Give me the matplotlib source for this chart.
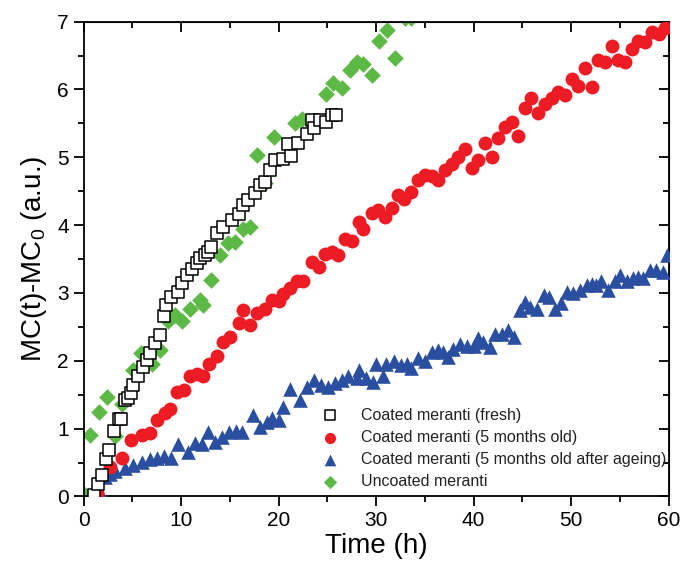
import numpy as np
import matplotlib
matplotlib.use("Agg")
import matplotlib.pyplot as plt
from matplotlib.ticker import MultipleLocator

plt.rcParams["font.family"] = ["Liberation Sans", "DejaVu Sans"]
plt.rcParams["mathtext.default"] = "regular"

# Coated meranti (fresh)
fresh_t = [1.1, 1.45, 1.9, 2.3, 2.6, 3.1, 3.6, 3.8, 4.3, 4.6, 4.9, 5.1, 5.6, 6.1, 6.5,
           6.8, 7.3, 7.8, 8.2, 8.5, 9.0, 9.7, 10.1, 10.6, 11.1, 11.6, 11.9, 12.5, 12.8,
           13.1, 13.7, 14.3, 15.2, 15.9, 16.4, 16.9, 17.6, 18.1, 18.6, 19.1, 19.6, 20.5,
           21.0, 21.3, 22.0, 22.9, 23.4, 23.6, 24.3, 24.9, 25.5, 25.9]
fresh_mc = [0.02, 0.18, 0.32, 0.55, 0.68, 0.97, 1.14, 1.14, 1.42, 1.45, 1.52, 1.64, 1.77,
            1.91, 2.01, 2.11, 2.26, 2.38, 2.66, 2.82, 2.94, 3.02, 3.14, 3.26, 3.36, 3.44,
            3.51, 3.56, 3.61, 3.68, 3.88, 3.98, 4.07, 4.17, 4.30, 4.37, 4.47, 4.59, 4.64,
            4.81, 4.96, 4.98, 5.20, 5.02, 5.21, 5.35, 5.55, 5.43, 5.55, 5.52, 5.62, 5.63]

# Coated meranti (5 months old)
old_t = [1.35, 2.7, 3.9, 4.9, 6.0, 6.8, 7.5, 8.4, 8.9, 9.6, 10.3, 10.9, 11.6, 12.3, 12.9,
         13.7, 14.3, 15.0, 15.9, 16.4, 17.1, 17.8, 18.6, 19.3, 20.0, 20.5, 21.2, 21.9,
         22.5, 23.4, 24.1, 24.8, 25.5, 26.1, 26.8, 27.5, 28.2, 28.7, 29.6, 30.2, 30.9,
         31.6, 32.3, 32.9, 33.6, 34.3, 35.0, 35.7, 36.4, 37.1, 37.8, 38.4, 39.1, 39.8,
         40.5, 41.2, 41.9, 42.5, 43.2, 43.9, 44.6, 45.3, 45.9, 46.6, 47.3, 48.0, 48.7,
         49.4, 50.1, 50.7, 51.4, 52.1, 52.8, 53.5, 54.2, 54.8, 55.5, 56.2, 56.9, 57.6,
         58.3, 59.0, 59.6]
old_mc = [0.05, 0.44, 0.56, 0.83, 0.90, 0.94, 1.13, 1.23, 1.29, 1.54, 1.57, 1.77, 1.80,
          1.78, 1.96, 2.07, 2.28, 2.35, 2.56, 2.75, 2.53, 2.70, 2.76, 2.90, 2.88, 2.99,
          3.07, 3.17, 3.17, 3.46, 3.39, 3.58, 3.61, 3.56, 3.80, 3.77, 4.05, 3.95, 4.18,
          4.22, 4.12, 4.26, 4.44, 4.38, 4.49, 4.66, 4.74, 4.72, 4.67, 4.82, 4.90, 5.01,
          5.12, 4.84, 4.96, 5.21, 5.00, 5.29, 5.44, 5.52, 5.31, 5.72, 5.88, 5.65, 5.78,
          5.87, 5.97, 5.92, 6.15, 6.05, 6.31, 6.03, 6.43, 6.41, 6.64, 6.44, 6.41, 6.59,
          6.72, 6.70, 6.85, 6.82, 6.90]

# Coated meranti (5 months old after ageing)
aged_t = [1.6, 2.2, 2.7, 3.2, 4.3, 5.1, 6.0, 6.8, 7.5, 8.2, 9.0, 9.7, 10.7, 11.4, 12.1,
          12.8, 13.5, 14.2, 14.9, 15.6, 16.2, 17.4, 18.1, 18.8, 19.3, 20.0, 20.5, 21.2,
          22.2, 22.9, 23.6, 24.4, 25.1, 25.8, 26.5, 27.1, 28.0, 28.3, 29.0, 29.7, 30.0,
          30.7, 31.0, 31.8, 32.6, 33.2, 33.6, 34.3, 35.0, 35.7, 36.4, 36.9, 37.4, 37.9,
          38.6, 39.3, 40.0, 40.5, 41.0, 41.7, 42.2, 42.9, 43.5, 44.1, 44.8, 45.3, 45.8,
          46.5, 47.2, 47.7, 48.4, 49.0, 49.6, 50.2, 50.9, 51.6, 52.1, 52.6, 53.1, 53.8,
          54.5, 55.0, 55.7, 56.4, 56.9, 57.4, 58.1, 58.7, 59.4, 59.8]
aged_mc = [0.10, 0.29, 0.33, 0.37, 0.42, 0.46, 0.51, 0.55, 0.56, 0.60, 0.56, 0.78, 0.66,
           0.79, 0.78, 0.95, 0.81, 0.88, 0.95, 0.97, 0.95, 1.20, 1.03, 1.10, 1.15, 1.13,
           1.32, 1.59, 1.42, 1.62, 1.72, 1.64, 1.62, 1.67, 1.72, 1.77, 1.74, 1.86, 1.74,
           1.69, 1.96, 1.77, 1.96, 1.99, 1.94, 1.96, 1.89, 2.04, 2.00, 2.13, 2.16, 2.13,
           2.06, 2.18, 2.25, 2.22, 2.22, 2.33, 2.28, 2.21, 2.40, 2.40, 2.45, 2.35, 2.75,
           2.87, 2.80, 2.77, 2.97, 2.94, 2.77, 2.85, 3.02, 3.00, 3.04, 3.12, 3.13, 3.12,
           3.17, 3.04, 3.17, 3.26, 3.17, 3.22, 3.24, 3.22, 3.34, 3.34, 3.31, 3.56]

# Uncoated meranti
unc_t = [0.15, 0.67, 1.6, 2.4, 3.2, 3.9, 5.1, 5.9, 7.0, 7.8, 8.7, 9.4, 10.1, 10.9, 11.9,
         12.3, 13.1, 14.0, 14.8, 15.5, 16.4, 17.1, 17.8, 18.6, 19.5, 21.7, 22.4, 24.9,
         25.6, 26.5, 27.3, 28.0, 28.7, 29.6, 30.3, 31.1, 31.9, 33.0, 33.6]
unc_mc = [0.02, 0.90, 1.24, 1.47, 0.89, 1.37, 1.86, 2.11, 1.96, 2.16, 2.58, 2.67, 2.58,
          2.77, 2.90, 2.82, 3.19, 3.56, 3.73, 3.75, 3.95, 3.98, 5.03, 4.62, 5.30, 5.50,
          5.57, 5.94, 6.09, 6.02, 6.29, 6.41, 6.38, 6.22, 6.72, 6.88, 6.47, 7.05, 7.05]

labels = ["Coated meranti (fresh)", "Coated meranti (5 months old)",
          "Coated meranti (5 months old after ageing)", "Uncoated meranti"]

red = "#ED1C24"
blue = "#2A4EA0"
green = "#5DB946"

fig = plt.figure(figsize=(6.85, 5.7), dpi=100)
ax = fig.add_axes([0.122, 0.129, 0.854, 0.833])

h_unc = ax.scatter(unc_t, unc_mc, marker="D", s=72, color=green, linewidths=0, zorder=2)
h_aged = ax.scatter(aged_t, aged_mc, marker="^", s=110, color=blue, linewidths=0, zorder=3)
h_old = ax.scatter(old_t, old_mc, marker="o", s=100, color=red, linewidths=0, zorder=4)
h_fresh = ax.scatter(fresh_t, fresh_mc, marker="s", s=72, facecolors="white",
                     edgecolors="black", linewidths=1.1, zorder=5)

ax.set_xlim(0, 60)
ax.set_ylim(0, 7)
ax.xaxis.set_major_locator(MultipleLocator(10))
ax.xaxis.set_minor_locator(MultipleLocator(5))
ax.yaxis.set_major_locator(MultipleLocator(1))
ax.yaxis.set_minor_locator(MultipleLocator(0.5))

ax.tick_params(which="both", direction="out", width=1.3, labelsize=15)
ax.tick_params(which="major", length=7)
ax.tick_params(which="minor", length=4)
for s in ax.spines.values():
    s.set_linewidth(1.3)

# inward ticks on the top and right sides
ax_top = ax.secondary_xaxis("top")
ax_top.xaxis.set_major_locator(MultipleLocator(10))
ax_top.xaxis.set_minor_locator(MultipleLocator(5))
ax_top.tick_params(which="both", direction="in", width=1.3, labeltop=False)
ax_top.tick_params(which="major", length=7)
ax_top.tick_params(which="minor", length=4)
ax_right = ax.secondary_yaxis("right")
ax_right.yaxis.set_major_locator(MultipleLocator(1))
ax_right.yaxis.set_minor_locator(MultipleLocator(0.5))
ax_right.tick_params(which="both", direction="in", width=1.3, labelright=False)
ax_right.tick_params(which="major", length=7)
ax_right.tick_params(which="minor", length=4)

ax.set_xlabel("Time (h)", fontsize=20, labelpad=2)
ax.set_ylabel("MC(t)-MC$_0$ (a.u.)", fontsize=20, labelpad=6)

leg = ax.legend([h_fresh, h_old, h_aged, h_unc], labels, loc="lower right",
                bbox_to_anchor=(1.02, -0.015), frameon=False, fontsize=11.5,
                handletextpad=0.9, labelspacing=0.45, markerscale=0.8,
                scatterpoints=1)
for t in leg.get_texts():
    t.set_color("#222222")

fig.savefig("out.png", dpi=100)
